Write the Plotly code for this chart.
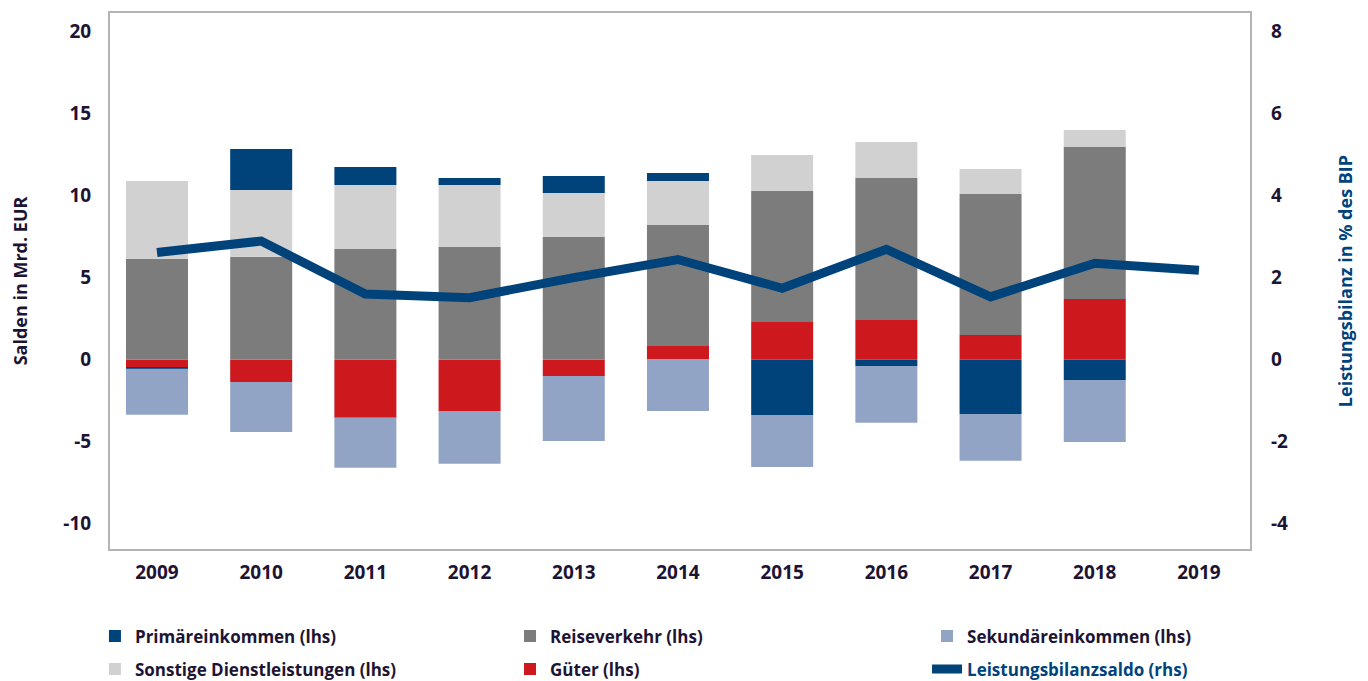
import plotly.graph_objects as go

# Jahre und Komponenten der Leistungsbilanz (Mrd. EUR), Saldo in % des BIP
years = ["2009", "2010", "2011", "2012", "2013", "2014", "2015", "2016", "2017", "2018", "2019"]

gueter = [-0.46, -1.37, -3.55, -3.14, -1.00, 0.82, 2.29, 2.41, 1.49, 3.69]
reiseverkehr = [6.15, 6.27, 6.74, 6.86, 7.47, 7.38, 7.98, 8.66, 8.60, 9.27]
sonstige = [4.73, 4.07, 3.90, 3.78, 2.68, 2.68, 2.20, 2.19, 1.53, 1.03]
primaer = [-0.10, 2.50, 1.10, 0.43, 1.04, 0.49, -3.38, -0.40, -3.32, -1.25]
sekundaer = [-2.81, -3.05, -3.05, -3.21, -3.97, -3.14, -3.17, -3.45, -2.85, -3.78]
saldo = [2.61, 2.89, 1.60, 1.51, 2.00, 2.44, 1.74, 2.69, 1.53, 2.35, 2.18]

left_ticks = [-10, -5, 0, 5, 10, 15, 20]
right_ticks = [-4, -2, 0, 2, 4, 6, 8]

BLUE = "#00437b"
RED = "#cd181d"
DGRAY = "#7c7c7c"
LGRAY = "#d1d1d1"
LBLUE = "#92a4c5"
TXT = "#1d1433"
FRAME = "#b4b4b4"
GRID = "#d6d6d6"

left_range = [-11.55, 21.13]
right_range = [v * 0.4 for v in left_range]

fig = go.Figure()

# stacking order matters for the relative bar mode; legend = column of the legend block
bar_series = [
    ("Güter (lhs)", gueter, RED, "legend2"),
    ("Reiseverkehr (lhs)", reiseverkehr, DGRAY, "legend2"),
    ("Sonstige Dienstleistungen (lhs)", sonstige, LGRAY, "legend"),
    ("Primäreinkommen (lhs)", primaer, BLUE, "legend"),
    ("Sekundäreinkommen (lhs)", sekundaer, LBLUE, "legend3"),
]
ranks = {"Primäreinkommen (lhs)": 1, "Sonstige Dienstleistungen (lhs)": 2,
         "Reiseverkehr (lhs)": 1, "Güter (lhs)": 2, "Sekundäreinkommen (lhs)": 1}
for name, vals, col, leg in bar_series:
    fig.add_bar(
        x=years[: len(vals)], y=vals, name=name, marker_color=col,
        marker_line_width=0, legend=leg, legendrank=ranks[name],
        legendgroup=name, yaxis="y",
    )

fig.add_scatter(
    x=years, y=saldo, yaxis="y2", mode="lines",
    name=f"<span style='color:{BLUE}'>Leistungsbilanzsaldo (rhs)</span>",
    line=dict(color=BLUE, width=9), legend="legend3", legendrank=2,
    legendgroup="saldo",
)

leg_common = dict(
    orientation="v", y=-0.1295, xanchor="left", yanchor="top",
    font=dict(size=17, color=TXT, weight=700), tracegroupgap=8, traceorder="grouped",
    bgcolor="rgba(0,0,0,0)",
)
tick_font = dict(size=19, color=TXT, weight=700)

# page body has an 8px margin, so the figure is a bit smaller than the window
fig.update_layout(
    width=1360, height=673,
    margin=dict(l=102, r=118, t=5, b=132, autoexpand=False),
    paper_bgcolor="white", plot_bgcolor="white",
    font=dict(family="Open Sans", size=19, color=TXT, weight=600),
    barmode="relative", bargap=0.405,
    xaxis=dict(
        range=[-0.451, 10.49], tickfont=tick_font,
        showline=True, linecolor=FRAME, linewidth=2, mirror=True, automargin=False,
        ticks="", ticklabelstandoff=5, showgrid=False,
    ),
    yaxis=dict(
        range=left_range, tickvals=left_ticks, ticktext=[str(v) for v in left_ticks],
        tickfont=tick_font, showgrid=False, zeroline=False, automargin=False,
        showline=True, linecolor=FRAME, linewidth=2, mirror=True,
        ticks="", ticklabelstandoff=13,
        title=dict(text="Salden in Mrd. EUR", font=dict(size=18, color=TXT, weight=700), standoff=39),
    ),
    yaxis2=dict(
        range=right_range, tickvals=right_ticks, ticktext=[str(v) for v in right_ticks],
        tickfont=tick_font, overlaying="y", side="right", automargin=False,
        showgrid=False, zeroline=False, showline=False,
        ticks="", ticklabelstandoff=20,
        title=dict(text="Leistungsbilanz in % des BIP", font=dict(size=18, color=BLUE, weight=700), standoff=52),
    ),
    # Gitterlinien nur bei -5 bis 15
    yaxis3=dict(
        range=left_range, tickvals=[-5, 0, 5, 10, 15], overlaying="y", side="right",
        showgrid=True, gridcolor=GRID, gridwidth=1.5, zeroline=False, automargin=False,
        showticklabels=False, ticks="outside", ticklen=15, tickcolor=GRID, tickwidth=1.5,
        showline=False,
    ),
    legend=dict(x=-0.0132, **leg_common),
    legend2=dict(x=0.3509, **leg_common),
    legend3=dict(x=0.7167, **leg_common),
)

fig.write_html("out.html")
